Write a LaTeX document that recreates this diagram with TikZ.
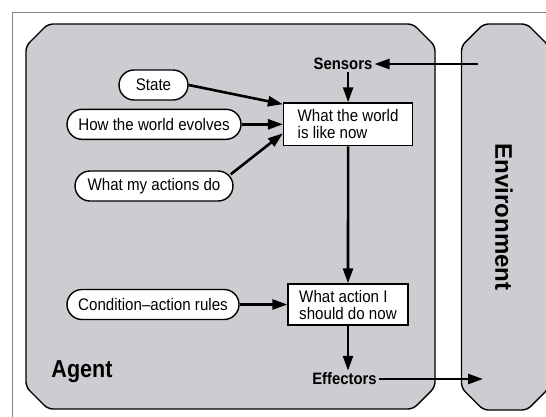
\documentclass[tikz,border=0pt]{standalone}
\usepackage{fontspec}
\setmainfont{Liberation Sans}[FakeStretch=0.9]
\newfontfamily\bigbold{Liberation Sans Bold}[FakeStretch=0.88]
\newfontfamily\envbold{Liberation Sans Bold}[FakeStretch=1.0]
\usetikzlibrary{arrows.meta,calc}
\definecolor{panel}{RGB}{204,205,208}
\definecolor{framegray}{RGB}{130,130,130}
\tikzset{
  txt/.style={font=\fontsize{16.8}{17}\selectfont},
  pill/.style={draw=black, line width=1.4pt, fill=white, rounded corners=15pt,
    minimum height=30pt, inner sep=0pt, txt},
  boxnode/.style={draw=black, line width=1.4pt, fill=white, align=left,
    inner sep=0pt, txt},
  lbl/.style={font=\fontsize{16.5}{17}\selectfont\bfseries, inner sep=2pt},
  arr/.style={line width=2.6pt, -{Triangle[length=15pt,width=10pt]}},
  panelbox/.style={draw=black, line width=1.4pt, fill=panel, rounded corners=5pt}
}
\begin{document}
\begin{tikzpicture}[x=1pt,y=-1pt]
\useasboundingbox (0,0) rectangle (546,416);
\fill[white] (0,0) rectangle (546,416);
% outer frame
\draw[framegray, line width=0.9pt] (12.5,430) -- (12.5,12) -- (560,12);
% agent panel
\path[panelbox] (26,46) -- (48,24) -- (413,24) -- (435,46) -- (435,387) -- (413,409) -- (48,409) -- (26,387) -- cycle;
% environment panel
\path[panelbox] (461.5,46) -- (483.5,24) -- (527,24) -- (549,46) -- (549,388) -- (527,410) -- (483.5,410) -- (461.5,388) -- cycle;
\node[font=\fontsize{24.5}{24}\bigbold] (agent) at (82,372) {Agent};
\node[font=\fontsize{24}{24}\envbold, rotate=-90] (env) at (504,217) {Environment};
% nodes
\node[pill, minimum width=69pt] (state) at (153.5,85) {State};
\node[pill, minimum width=174pt] (evolves) at (154,124.3) {How the world evolves};
\node[pill, minimum width=158pt] (actions) at (154,186) {What my actions do};
\node[pill, minimum width=172pt] (rules) at (153,304.5) {Condition–action rules};
\node[boxnode, minimum width=129pt, minimum height=42.7pt] (world) at (348.1,124.3) {What the world\\is like now};
\node[boxnode, minimum width=120pt, minimum height=41pt] (act) at (348,304.5) {What action I\\should do now};
\node[lbl] (sensors) at (343,64) {Sensors};
\node[lbl] (effectors) at (344.5,379) {Effectors};
\coordinate (envout) at (478,64);
\coordinate (envin) at (483,379);
\path (actions.north east) ++(-3pt,-4pt) coordinate (aout);
% connectors
\draw[arr] (envout) -- (sensors.east);
\draw[arr] (sensors.south -| world.north) -- (world.north);
\draw[arr] (state.east) -- ([yshift=-2pt]world.north west);
\draw[arr] (evolves.east) -- (evolves.east -| world.west);
\draw[arr] (aout) -- ([yshift=-9pt]world.west);
\draw[arr] (world.south) -- (act.north);
\draw[arr] (rules.east) -- (rules.east -| act.west);
\draw[arr] (act.south) -- (act.south |- effectors.north);
\draw[arr] (effectors.east) -- (envin);
\end{tikzpicture}
\end{document}
